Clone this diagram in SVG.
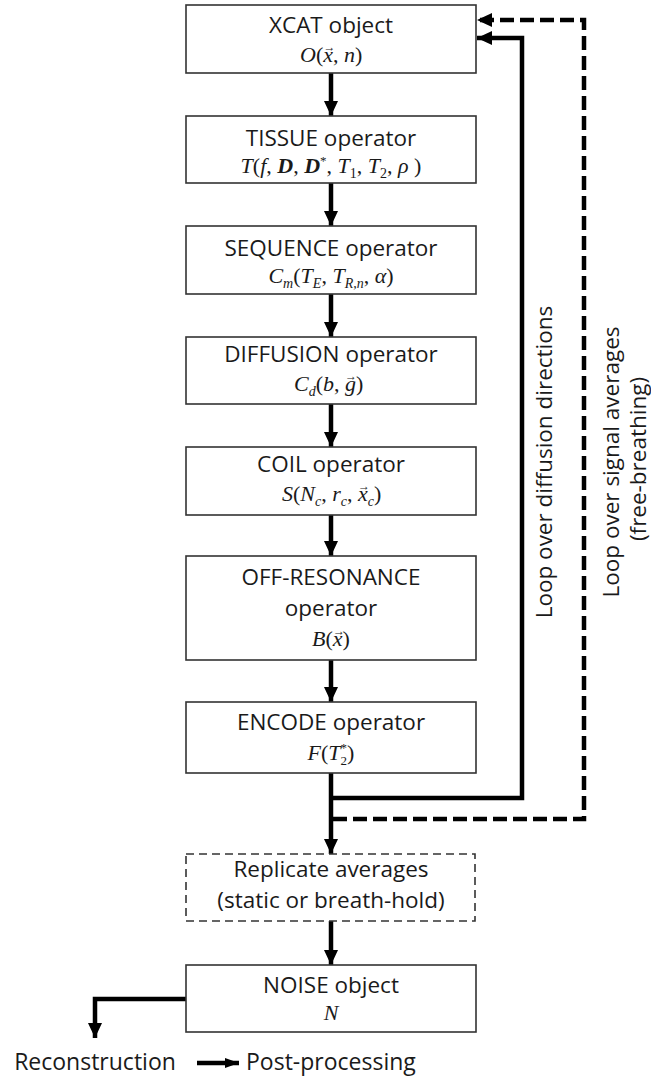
<svg xmlns="http://www.w3.org/2000/svg" width="651" height="1079" viewBox="0 0 651 1079">
<style>
.box{fill:#fff;stroke:#333;stroke-width:1.6}
.dbox{fill:#fff;stroke:#333;stroke-width:1.6;stroke-dasharray:8 5}
.t{font-family:"Open Sans","DejaVu Sans",sans-serif;font-size:22.5px;fill:#1a1a1a;text-anchor:middle}
.f{font-family:"Liberation Serif","DejaVu Serif",serif;font-style:italic;font-size:22px;fill:#1a1a1a;text-anchor:middle}
.fs{text-anchor:start}
.u{font-style:normal}
.b{font-weight:bold}
.s{font-size:14px}
.ss{font-size:13px}
.va{font-size:12px;font-style:normal;text-anchor:middle}
.c{fill:none;stroke:#000;stroke-width:4.5}
.d{fill:none;stroke:#000;stroke-width:4.5;stroke-dasharray:14 6}
</style>
<defs>
<marker id="ah" markerUnits="userSpaceOnUse" markerWidth="16" markerHeight="16" refX="15" refY="8" orient="auto">
<path d="M0,1 L15,8 L0,15 Z" fill="#000"/>
</marker>
<marker id="ahs" markerUnits="userSpaceOnUse" markerWidth="14" markerHeight="12" refX="14" refY="6" orient="auto">
<path d="M0,1 L14,6 L0,11 Z" fill="#000"/>
</marker>
</defs>
<g id="connectors">
<path class="c" d="M331,73 V116" marker-end="url(#ah)"/>
<path class="c" d="M331,183 V226" marker-end="url(#ah)"/>
<path class="c" d="M331,294 V337" marker-end="url(#ah)"/>
<path class="c" d="M331,404 V447" marker-end="url(#ah)"/>
<path class="c" d="M331,515 V556" marker-end="url(#ah)"/>
<path class="c" d="M331,660 V702" marker-end="url(#ah)"/>
<path class="c" d="M331,773 V854" marker-end="url(#ah)"/>
<path class="c" d="M331,921 V965" marker-end="url(#ah)"/>
<path class="c" d="M331,798 H522 V38 H477" marker-end="url(#ah)"/>
<path class="d" d="M333,819 H584 V20 H477" marker-end="url(#ah)"/>
<path class="c" d="M186,999 H95 V1038" marker-end="url(#ah)"/>
<path class="c" d="M197,1063 H239" marker-end="url(#ahs)"/>
</g>
<g id="xcat">
<rect class="box" x="186" y="5" width="290" height="68"/>
<text class="t" x="331" y="33">XCAT object</text>
<text class="f fs" x="300" y="62">O<tspan class="u">(</tspan>x<tspan class="u">, </tspan>n<tspan class="u">)</tspan><tspan class="va" x="329.5" y="51">→</tspan></text>
</g>
<g id="tissue">
<rect class="box" x="186" y="116" width="290" height="67"/>
<text class="t" x="331" y="146">TISSUE operator</text>
<text class="f" x="331" y="173">T<tspan class="u">(</tspan>f<tspan class="u">, </tspan><tspan class="b">D</tspan><tspan class="u">, </tspan><tspan class="b">D</tspan><tspan class="ss u" dy="-8">*</tspan><tspan class="u" dy="8">, </tspan>T<tspan class="s u" dy="5">1</tspan><tspan class="u" dy="-5">, </tspan>T<tspan class="s u" dy="5">2</tspan><tspan class="u" dy="-5">, </tspan>ρ<tspan class="u"> )</tspan></text>
</g>
<g id="sequence">
<rect class="box" x="186" y="226" width="290" height="68"/>
<text class="t" x="331" y="256">SEQUENCE operator</text>
<text class="f" x="331" y="283">C<tspan class="s" dy="5">m</tspan><tspan class="u" dy="-5">(</tspan>T<tspan class="s" dy="5">E</tspan><tspan class="u" dy="-5">, </tspan>T<tspan class="s" dy="5">R,n</tspan><tspan class="u" dy="-5">, </tspan>α<tspan class="u">)</tspan></text>
</g>
<g id="diffusion">
<rect class="box" x="186" y="337" width="290" height="67"/>
<text class="t" x="331" y="362">DIFFUSION operator</text>
<text class="f fs" x="294" y="391">C<tspan class="s" dy="5">d</tspan><tspan class="u" dy="-5">(</tspan>b<tspan class="u">, </tspan>g<tspan class="u">)</tspan><tspan class="va" x="351" y="380">→</tspan></text>
</g>
<g id="coil">
<rect class="box" x="186" y="447" width="290" height="68"/>
<text class="t" x="331" y="472">COIL operator</text>
<text class="f fs" x="282" y="501">S<tspan class="u">(</tspan>N<tspan class="s" dy="5">c</tspan><tspan class="u" dy="-5">, </tspan>r<tspan class="s" dy="5">c</tspan><tspan class="u" dy="-5">, </tspan>x<tspan class="s" dy="5">c</tspan><tspan class="u" dy="-5">)</tspan><tspan class="va" x="364" y="490">→</tspan></text>
</g>
<g id="offresonance">
<rect class="box" x="186" y="556" width="290" height="104"/>
<text class="t" x="331" y="585">OFF-RESONANCE<tspan x="331" dy="31">operator</tspan></text>
<text class="f fs" x="312" y="646">B<tspan class="u">(</tspan>x<tspan class="u">)</tspan><tspan class="va" x="339" y="635">→</tspan></text>
</g>
<g id="encode">
<rect class="box" x="186" y="702" width="290" height="71"/>
<text class="t" x="331" y="730">ENCODE operator</text>
<text class="f" x="331" y="760">F<tspan class="u">(</tspan>T<tspan class="ss u" dy="5">2</tspan><tspan class="ss u" dx="-6.5" dy="-13">*</tspan><tspan class="u" dy="8">)</tspan></text>
</g>
<g id="replicate">
<rect class="dbox" x="186" y="854" width="289" height="67"/>
<text class="t" x="331" y="877">Replicate averages<tspan x="331" dy="31">(static or breath-hold)</tspan></text>
</g>
<g id="noise">
<rect class="box" x="186" y="965" width="290" height="67"/>
<text class="t" x="331" y="993">NOISE object</text>
<text class="f" x="331" y="1020">N</text>
</g>
<g id="reconstruction">
<text class="t" x="95" y="1070" style="font-size:23px">Reconstruction</text>
</g>
<g id="postprocessing">
<text class="t" x="246" y="1070" style="text-anchor:start;font-size:23px">Post-processing</text>
</g>
<g id="loop-labels">
<text class="t" transform="translate(552,462) rotate(-90)">Loop over diffusion directions</text>
<text class="t" transform="rotate(-90)"><tspan x="-462" y="619">Loop over signal averages</tspan><tspan x="-459" y="646">(free-breathing)</tspan></text>
</g>
</svg>
